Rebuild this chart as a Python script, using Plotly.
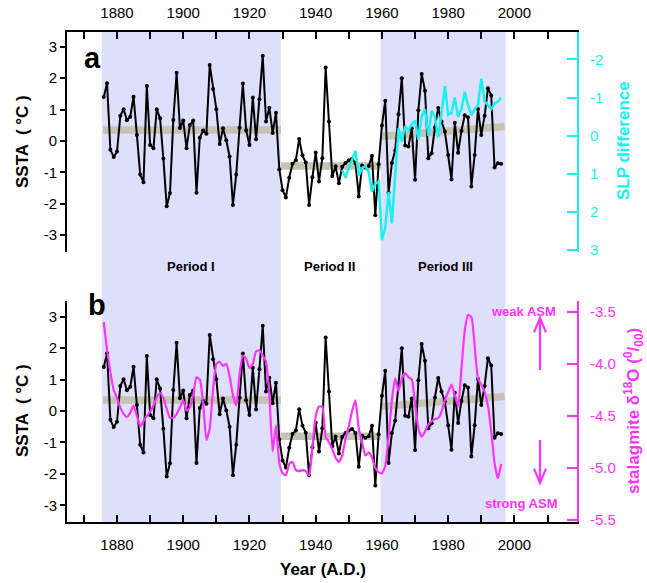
import plotly.graph_objects as go

# ---------------- data ----------------
years = list(range(1876, 1997))
ssta = [1.40, 1.84, -0.28, -0.51, -0.34, 0.80, 1.01, 0.66, 0.77, 1.41,
        0.19, -1.07, -1.32, 1.75, -0.13, -0.23, 1.01, 0.72, -0.56, -2.08,
        -1.66, 0.67, 2.17, 0.41, 0.65, -0.23, 0.51, 0.65, -1.65, 0.10,
        0.33, 0.23, 2.42, 1.65, 1.01, -0.10, 0.40, 0.02, -0.50, -2.04,
        -1.07, 0.42, 1.83, 0.34, -0.13, 1.38, 0.05, 1.33, 2.71, 0.62,
        1.06, 0.25, 0.90, -0.90, -1.57, -1.80, -1.17, -0.73, -0.62, 0.06,
        -0.46, -0.69, -2.04, -1.16, -0.37, -1.29, -0.55, 2.34, 0.62, -1.12,
        -0.81, -1.35, -0.82, -0.70, -0.62, -0.57, -0.70, -1.77, -0.78, -0.85,
        -0.80, -0.47, -2.37, -0.74, 0.49, 1.28, -1.65, -0.70, -0.30, 0.85,
        2.00, -0.15, -0.18, 0.40, -1.24, 0.98, 2.13, 1.60, -0.55, -0.39,
        0.43, 1.05, 0.62, 0.30, -0.45, -1.23, 0.58, -0.38, 0.32, 0.82,
        0.75, -1.45, -0.45, 1.02, 0.19, 0.80, 1.68, 1.45, -0.85, -0.71,
        -0.73]

slp_years = list(range(1948, 1997))
slp = [0.90, 1.10, 0.85, 0.60, 0.40, 1.05, 0.85, 0.80, 0.95, 1.47,
       1.25, 1.20, 2.74, 2.40, 1.47, 2.30, 0.90, -0.20, 0.15, -0.25,
       -0.15, -0.30, -0.40, 0.10, -0.50, -0.70, 0.00, -0.65, -0.50, 0.05,
       -0.60, -1.30, -0.55, -0.60, -1.00, -0.50, -0.70, -1.15, -0.80, -0.55,
       -0.70, -0.80, -1.50, -0.90, -0.80, -0.70, -0.85, -0.90, -1.00]

d18o_years = list(range(1876, 1997))
d18o = [-3.60, -3.87, -4.08, -4.25, -4.33, -4.42, -4.48, -4.51, -4.47, -4.40,
        -4.50, -4.60, -4.55, -4.50, -4.46, -4.40, -4.32, -4.28, -4.33, -4.43,
        -4.52, -4.52, -4.48, -4.42, -4.35, -4.45, -4.42, -4.30, -4.13, -4.15,
        -4.38, -4.73, -4.62, -4.25, -4.00, -3.98, -4.02, -4.00, -4.12, -4.30,
        -4.40, -4.10, -3.92, -3.95, -4.04, -4.00, -3.88, -3.87, -3.92, -3.98,
        -4.30, -4.84, -4.59, -4.95, -5.05, -5.07, -4.96, -4.94, -5.02, -5.03,
        -5.02, -5.03, -5.07, -4.80, -4.50, -4.41, -4.41, -4.70, -4.75, -4.82,
        -4.90, -4.94, -4.88, -4.72, -4.60, -4.45, -4.35, -4.62, -4.75, -4.88,
        -4.85, -4.90, -5.00, -5.04, -5.05, -4.98, -4.70, -4.35, -4.14, -4.26,
        -4.14, -4.09, -4.13, -4.15, -4.38, -4.62, -4.70, -4.65, -4.58, -4.55,
        -4.53, -4.52, -4.46, -4.35, -4.27, -4.20, -4.30, -4.41, -4.05, -3.68,
        -3.53, -3.55, -3.83, -4.14, -4.20, -4.27, -4.40, -4.65, -4.95, -5.10,
        -4.96]

# period boundaries (years) and mean levels (SSTA)
period_names = ["Period I", "Period II", "Period III"]
period_start = [1875.4, 1929.5, 1959.6]
period_end = [1929.5, 1959.6, 1997.3]
trend_start_val = [0.35, -0.80, 0.14]
trend_end_val = [0.35, -0.80, 0.46]
shaded_periods = [0, 2]

ssta_ticks = [3, 2, 1, 0, -1, -2, -3]
ssta_ticktext = ["3", "2", "1", "0", "-1", "-2", "-3"]
slp_ticks = [-2, -1, 0, 1, 2, 3]
slp_ticktext = ["-2", "-1", "0", "1", "2", "3"]
d18o_ticks = [-3.5, -4.0, -4.5, -5.0, -5.5]
d18o_ticktext = ["-3.5", "-4.0", "-4.5", "-5.0", "-5.5"]

# ---------------- layout geometry ----------------
W, H = 647, 583
ML, MR, MT, MB = 67, 70, 32, 61
PW, PH = W - ML - MR, H - MT - MB


def px(x):
    return (x - ML) / PW


def py(y):
    return (H - MB - y) / PH


FONT = "Arial, Liberation Sans, Helvetica, sans-serif"
CYAN = "#19f0f0"
MAG = "#ff33ff"
GRAY = "#c6c3b5"
SHADE = "#dedffb"

fig = go.Figure()

for ax_x, ax_y in [("x", "y"), ("x2", "y3")]:
    for i in range(3):
        fig.add_trace(go.Scatter(
            x=[period_start[i] + (0.4 if i == 0 else 0), period_end[i] - (0.3 if i == 2 else 0)],
            y=[trend_start_val[i], trend_end_val[i]],
            mode="lines", line=dict(color=GRAY, width=7.5),
            xaxis=ax_x, yaxis=ax_y, showlegend=False, hoverinfo="skip"))
    fig.add_trace(go.Scatter(
        x=years, y=ssta, mode="lines+markers",
        line=dict(color="black", width=2), marker=dict(color="black", size=4),
        xaxis=ax_x, yaxis=ax_y, showlegend=False))

fig.add_trace(go.Scatter(x=slp_years, y=slp, mode="lines",
                         line=dict(color=CYAN, width=2.5),
                         xaxis="x", yaxis="y2", showlegend=False))
fig.add_trace(go.Scatter(x=d18o_years, y=d18o, mode="lines",
                         line=dict(color=MAG, width=2.2, shape="spline", smoothing=0.5),
                         xaxis="x2", yaxis="y4", showlegend=False))

xr = [1864.9, 2018.9]
tickfont = dict(family=FONT, size=15, color="black")

axis_common = dict(showgrid=False, zeroline=False, linecolor="black", linewidth=2,
                   automargin=False)

fig.update_layout(
    template="none",
    width=W, height=H, margin=dict(l=ML, r=MR, t=MT, b=MB),
    plot_bgcolor="rgba(0,0,0,0)", paper_bgcolor="white",
    font=dict(family=FONT, color="black"),
    xaxis=dict(domain=[0, 1], range=xr, anchor="y", side="top", **axis_common,
               showline=True, ticks="inside", ticklen=7, tickwidth=2, tickcolor="black",
               tick0=1880, dtick=20, tickfont=tickfont, ticklabelstandoff=6,
               minor=dict(dtick=10, tick0=1870, ticks="inside", ticklen=7,
                          tickwidth=2, tickcolor="black")),
    yaxis=dict(domain=[py(251.7), 1], range=[-3.53, 3.47], anchor="x", **axis_common,
               showline=True, ticks="outside", ticklen=5, tickwidth=2, tickcolor="black",
               tickvals=ssta_ticks, ticktext=ssta_ticktext, tickfont=tickfont),
    yaxis2=dict(domain=[py(251.7), 1], range=[3.04, -2.72], anchor="x", overlaying="y",
                side="right", showgrid=False, zeroline=False, showline=True, automargin=False,
                linecolor=CYAN, linewidth=2, ticks="inside", ticklen=10, tickwidth=2,
                tickcolor=CYAN, tickvals=slp_ticks, ticktext=slp_ticktext,
                tickfont=dict(family=FONT, size=15, color=CYAN), ticklabelstandoff=8),
    xaxis2=dict(domain=[0, 1], range=xr, anchor="y3", side="bottom", **axis_common,
                showline=True, ticks="inside", ticklen=7, tickwidth=2, tickcolor="black",
                tick0=1880, dtick=20, tickfont=tickfont, ticklabelstandoff=8,
                minor=dict(dtick=10, tick0=1870, ticks="inside", ticklen=7,
                           tickwidth=2, tickcolor="black")),
    yaxis3=dict(domain=[0, py(300.7)], range=[-3.53, 3.51], anchor="x2", **axis_common,
                showline=True, ticks="outside", ticklen=5, tickwidth=2, tickcolor="black",
                tickvals=ssta_ticks, ticktext=ssta_ticktext, tickfont=tickfont),
    yaxis4=dict(domain=[0, py(300.7)], range=[-5.518, -3.394], anchor="x2", overlaying="y3",
                side="right", showgrid=False, zeroline=False, showline=True, automargin=False,
                linecolor=MAG, linewidth=2, ticks="inside", ticklen=10, tickwidth=2,
                tickcolor=MAG, tickvals=d18o_ticks, ticktext=d18o_ticktext,
                tickfont=dict(family=FONT, size=15, color=MAG), ticklabelstandoff=8),
)

# shaded periods spanning both panels
for i in shaded_periods:
    fig.add_shape(type="rect", xref="x", yref="paper", x0=period_start[i], x1=period_end[i],
                  y0=0, y1=1, fillcolor=SHADE, line=dict(width=0), layer="below")

ann = []


def text(x, y, s, size=15, color="black", angle=0):
    ann.append(dict(x=px(x), y=py(y), xref="paper", yref="paper", text=s, showarrow=False,
                    textangle=angle, xanchor="center", yanchor="middle",
                    font=dict(family=FONT, size=size, color=color)))


text(92, 58, "<b>a</b>", size=29)
text(97, 305, "<b>b</b>", size=29)
text(22, 142, "<b>SSTA  ( °C )</b>", size=17, angle=-90)
text(22, 411, "<b>SSTA  ( °C )</b>", size=17, angle=-90)
text(623, 141, "<b>SLP difference</b>", size=17, color=CYAN, angle=-90)
text(633, 411, "<b>stalagmite δ<sup>18</sup>O (<sup>0</sup>/<sub>00</sub>)</b>", size=17, color=MAG, angle=-90)
text(323, 569, "<b>Year (A.D.)</b>", size=17)
text(191, 266, "<b>Period I</b>", size=13)
text(329, 266, "<b>Period II</b>", size=13)
text(445, 266, "<b>Period III</b>", size=13)
text(523, 311, "<b>weak ASM</b>", size=13, color=MAG)
text(521, 503, "<b>strong ASM</b>", size=13, color=MAG)

fig.update_layout(annotations=ann)


# up / down arrows
def arrow_path(x, y_tail, y_head):
    d = 6 if y_head < y_tail else -6
    return (f"M{px(x)},{py(y_tail)} L{px(x)},{py(y_head)} "
            f"M{px(x - 6)},{py(y_head + 2.4 * d)} L{px(x)},{py(y_head)} L{px(x + 6)},{py(y_head + 2.4 * d)}")


for yt, yh in [(370, 318), (440, 483)]:
    fig.add_shape(type="path", xref="paper", yref="paper", path=arrow_path(540, yt, yh),
                  line=dict(color=MAG, width=2.2))

fig.write_html("out.html", config={"displayModeBar": False},
               post_script="document.body.style.margin='0';document.body.style.overflow='hidden';")
